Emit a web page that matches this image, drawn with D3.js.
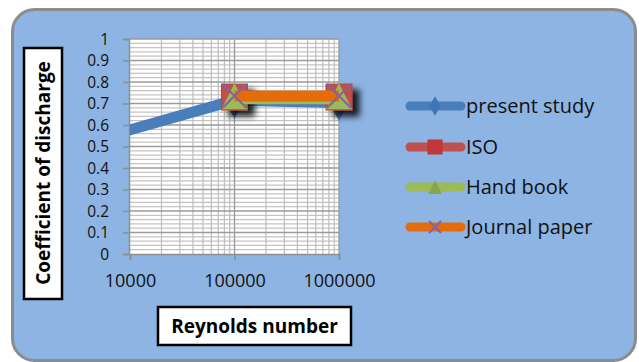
<!DOCTYPE html>
<html><head><meta charset="utf-8">
<script src="https://cdn.jsdelivr.net/npm/d3@7/dist/d3.min.js"></script>
<style>body{margin:0;background:#fff;}svg{display:block;}</style>
</head><body>
<svg id="c" width="639" height="362"></svg>
<script>
const reynolds = [7000, 100000, 1000000];
const presentStudy = [0.556, 0.715, 0.705];
const isoValues = [null, 0.73, 0.73];
const handBook = [null, 0.72, 0.72];
const journalPaper = [null, 0.735, 0.735];
const seriesNames = ["present study", "ISO", "Hand book", "Journal paper"];
const yTicks = [0, 0.1, 0.2, 0.3, 0.4, 0.5, 0.6, 0.7, 0.8, 0.9, 1];
const xTicks = [10000, 100000, 1000000];

const font = "'Open Sans', Lato, sans-serif";
const svg = d3.select("#c");
const defs = svg.append("defs");
const f = defs.append("filter").attr("id","sh").attr("x","-50%").attr("y","-50%").attr("width","220%").attr("height","220%");
f.append("feDropShadow").attr("dx",7).attr("dy",6).attr("stdDeviation",3).attr("flood-color","#000").attr("flood-opacity",0.85);

// frame
svg.append("rect").attr("x",12.5).attr("y",9.5).attr("width",623).attr("height",351)
  .attr("rx",22).attr("fill","#8DB4E2").attr("stroke","#8c8c8c").attr("stroke-width",3);

const x = d3.scaleLog().domain([10000, 1000000]).range([130, 339]);
const y = d3.scaleLinear().domain([0, 1]).range([254, 39]);

defs.append("clipPath").attr("id","pc").append("rect")
  .attr("x",x(10000)).attr("y",0).attr("width",x(1000000)-x(10000)+40).attr("height",362);

// plot area
svg.append("rect").attr("x",x(10000)).attr("y",y(1)).attr("width",x(1000000)-x(10000)).attr("height",y(0)-y(1)).attr("fill","#fff");

const g = svg.append("g");
const yMinor = d3.range(0, 1.0001, 0.02).filter(v => Math.abs(v*10 - Math.round(v*10)) > 1e-6);
g.selectAll(".hm").data(yMinor).join("line")
  .attr("x1",x(10000)).attr("x2",x(1000000)).attr("y1",d=>y(d)).attr("y2",d=>y(d))
  .attr("stroke","#c4c4c4").attr("stroke-width",1.2);
const xMinor = [];
[10000,100000].forEach(b=>{for(let k=2;k<=9;k++) xMinor.push(b*k);});
g.selectAll(".vm").data(xMinor).join("line")
  .attr("x1",d=>x(d)).attr("x2",d=>x(d)).attr("y1",y(0)).attr("y2",y(1))
  .attr("stroke","#bdbdbd").attr("stroke-width",1.2);
g.selectAll(".hM").data(yTicks.slice(1)).join("line")
  .attr("x1",x(10000)).attr("x2",x(1000000)).attr("y1",d=>y(d)).attr("y2",d=>y(d))
  .attr("stroke","#9a9a9a").attr("stroke-width",1.3);
g.selectAll(".vM").data(xTicks.slice(1)).join("line")
  .attr("x1",d=>x(d)).attr("x2",d=>x(d)).attr("y1",y(0)).attr("y2",y(1))
  .attr("stroke","#9a9a9a").attr("stroke-width",1.3);

// axes
const yAxis = d3.axisLeft(y).tickValues(yTicks).tickSize(6).tickPadding(14).tickFormat(d=>d3.format("")(+d.toFixed(1)));
const ya = svg.append("g").attr("transform",`translate(${x(10000)-1},0)`).call(yAxis);
const xAxis = d3.axisBottom(x).tickValues(xTicks).tickSize(6).tickPadding(12).tickFormat(d3.format("d"));
const xa = svg.append("g").attr("transform",`translate(0,${y(0)})`).call(xAxis);
[ya, xa].forEach(a=>{
  a.select(".domain").attr("stroke","#8e8e8e").attr("stroke-width",1.5);
  a.selectAll(".tick line").attr("stroke","#8e8e8e").attr("stroke-width",1.5);
  a.selectAll("text").attr("font-family",font).attr("fill","#111");
});
ya.selectAll("text").attr("dy","0.35em").attr("font-size",15.5);
xa.selectAll("text").attr("dy","0.85em").attr("font-size",18);

// series
const colors = {blue:"#4A7EBB", red:"#C0504D", green:"#9BBB59", orange:"#E46C0A", purple:"#8064A2"};
const pts = vals => reynolds.map((r,i)=>({r, v: vals[i]})).filter(d=>d.v!=null);
const line = d3.line().x(d=>x(d.r)).y(d=>y(d.v));
const sym = (type, size) => d3.symbol().type(type).size(size)();
const plot = svg.append("g").attr("clip-path","url(#pc)");

function series(vals, color, markerFn, lw, shadow){
  const p = pts(vals);
  plot.append("path").datum(p).attr("d",line).attr("fill","none").attr("stroke",color).attr("stroke-width",lw).attr("stroke-linejoin","round");
  const m = plot.append("g");
  if(shadow) m.attr("filter","url(#sh)");
  p.forEach(d=>markerFn(m.append("g").attr("transform",`translate(${x(d.r)},${y(d.v)})`)));
}
series(presentStudy, colors.blue, s=>s.append("path").attr("d",sym(d3.symbolDiamond,300)).attr("fill","#4A7EBB").attr("transform","translate(0,2)"), 11, false);
series(isoValues, colors.red, s=>s.append("rect").attr("x",-13).attr("y",-13).attr("width",26).attr("height",26).attr("fill","#C0504D").attr("stroke","#B84542").attr("stroke-width",1), 10, true);
series(handBook, colors.green, s=>s.append("path").attr("d","M0,-13 L13,13 L-13,13 Z").attr("fill","#9BBB59").attr("transform","translate(0,-3)"), 10, false);
series(journalPaper, colors.orange, s=>{
  s.append("path").attr("d","M-12,-12 L12,12 M12,-12 L-12,12").attr("stroke","#8064A2").attr("stroke-width",2).attr("fill","none");
}, 11, false);

// legend
const legY = [106, 147, 187, 227];
const legColors = [colors.blue, colors.red, colors.green, colors.orange];
const leg = svg.append("g");
seriesNames.forEach((n,i)=>{
  const gy = legY[i];
  leg.append("line").attr("x1",410).attr("x2",461).attr("y1",gy).attr("y2",gy)
    .attr("stroke",legColors[i]).attr("stroke-width",9).attr("stroke-linecap","round");
  const mg = leg.append("g").attr("transform",`translate(435,${gy})`);
  if(i===0) mg.append("path").attr("d",sym(d3.symbolDiamond,110)).attr("fill","#3f74b5");
  if(i===1) mg.append("rect").attr("x",-7).attr("y",-7).attr("width",14).attr("height",14).attr("fill","#C0393a").attr("stroke","#b83535");
  if(i===2) mg.append("path").attr("d","M0,-7 L7,7 L-7,7 Z").attr("fill","#86a84a");
  if(i===3) mg.append("path").attr("d","M-6,-6 L6,6 M6,-6 L-6,6").attr("stroke","#8064A2").attr("stroke-width",2);
  leg.append("text").attr("x",466).attr("y",gy).attr("dy","0.35em").text(n)
    .attr("font-family",font).attr("font-size",20).attr("fill","#111");
});

// axis titles
svg.append("rect").attr("x",24).attr("y",48).attr("width",38).attr("height",251).attr("fill","#fff").attr("stroke","#000").attr("stroke-width",2.5);
svg.append("text").attr("transform","translate(43,173) rotate(-90)").attr("text-anchor","middle").attr("dy","0.35em")
  .text("Coefficient of discharge").attr("font-family",font).attr("font-weight","bold").attr("font-size",19).attr("fill","#000");
svg.append("rect").attr("x",158).attr("y",307).attr("width",193).attr("height",38).attr("fill","#fff").attr("stroke","#000").attr("stroke-width",2.5);
svg.append("text").attr("x",254.5).attr("y",326).attr("text-anchor","middle").attr("dy","0.35em")
  .text("Reynolds number").attr("font-family",font).attr("font-weight","bold").attr("font-size",19).attr("fill","#000");
</script>
</body></html>
